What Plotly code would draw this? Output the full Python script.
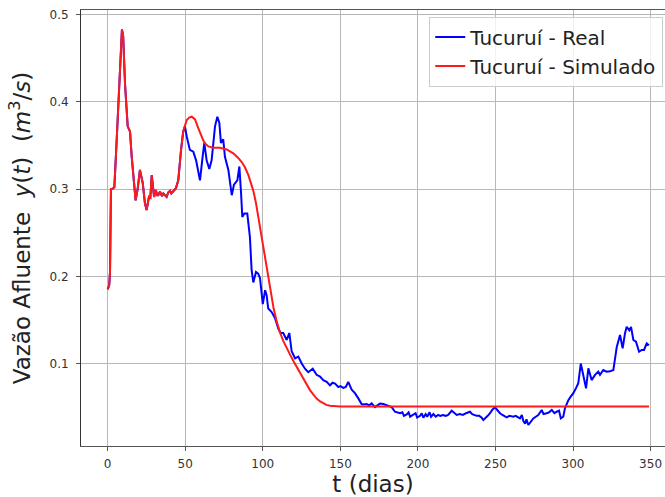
import plotly.graph_objects as go

# Trecho inicial (real e simulado coincidem)
t_inicio = [0, 1, 1.5, 2.1, 3, 4.3, 5.8, 7, 7.9, 9.2, 10, 11.2, 12.9, 14.4, 15.5, 17, 18, 19.3,
            20.8, 22.6, 24, 25.1, 26.6, 27.5, 28.4, 29.9, 31, 32, 32.6, 33.7, 35, 35.9, 37, 38,
            39, 40.2, 41, 42.3, 43, 44, 45.5, 47.3, 48.7]
q_inicio = [0.185, 0.19, 0.205, 0.30, 0.30, 0.302, 0.356, 0.40, 0.44, 0.483, 0.475, 0.42, 0.372,
            0.366, 0.337, 0.303, 0.287, 0.30, 0.322, 0.307, 0.284, 0.276, 0.291, 0.29, 0.316,
            0.291, 0.299, 0.293, 0.293, 0.297, 0.292, 0.295, 0.293, 0.291, 0.296, 0.298, 0.295,
            0.297, 0.299, 0.301, 0.31, 0.345, 0.366]

# Tucuruí - Real (restante)
t_real = [49.8, 51, 53, 55.2, 57, 59.5, 61.2, 62.3, 63.8, 65.5, 67, 69.2, 70.7, 72, 73, 74.5,
          75.6, 77.8, 80, 81.4, 83.6, 84.9, 86, 86.8, 88.1, 90, 91.7, 92.8, 93.9, 95.6, 97, 98.2,
          100, 101.5, 102.5, 103.5, 105.7, 107.9, 110, 111.5, 113.2, 115.4, 117.1, 118.6, 120.8,
          122.9, 125.1, 127.2, 129.3, 132.2, 134.7, 136.9, 139, 141.2, 143.3, 145, 146.6, 148.7,
          150, 151.9, 153.5, 155.1, 157.3, 159.4, 161.6, 163.7, 165, 167, 168.5, 170.2, 172.3,
          174, 175.6, 177.7, 179.9, 181.5, 183.1, 185.2, 186.8, 188.5, 190, 191, 192.8, 194, 195,
          197, 198.5, 199.5, 201.4, 202.5, 203.5, 205, 206, 207.5, 208.5, 210, 211.5, 213, 214.5,
          216, 218, 219.5, 221.8, 223, 225, 227, 229, 231, 233.6, 235, 237.9, 239.5, 241, 242.2,
          243.5, 245, 246.5, 248, 249.7, 251, 252.9, 254.5, 256, 257.2, 259, 261.5, 263, 264.5,
          265.8, 267, 268, 269.1, 270, 271.2, 272.5, 274.4, 276, 277.6, 279.8, 281, 283, 284.5,
          286.3, 288, 289.5, 291, 292.1, 293.7, 294.8, 297, 298.5, 300.2, 302, 303.4, 305, 306.7,
          308.4, 309.9, 312, 314.2, 316.3, 317.4, 319.5, 321.7, 323.9, 326, 327.1, 328.2, 330.3,
          332, 333.5, 334.6, 336.3, 337.4, 338.9, 340.6, 342.6, 344.3, 345.8, 347.5, 349]
q_real = [0.372, 0.36, 0.345, 0.343, 0.333, 0.31, 0.337, 0.353, 0.333, 0.323, 0.333, 0.372, 0.383,
          0.376, 0.353, 0.357, 0.337, 0.322, 0.293, 0.305, 0.31, 0.326, 0.295, 0.268, 0.272,
          0.272, 0.245, 0.207, 0.193, 0.205, 0.203, 0.198, 0.168, 0.184, 0.178, 0.163, 0.159,
          0.152, 0.140, 0.135, 0.135, 0.127, 0.135, 0.114, 0.106, 0.108, 0.100, 0.094, 0.090,
          0.094, 0.087, 0.085, 0.081, 0.079, 0.075, 0.078, 0.077, 0.073, 0.074, 0.072, 0.073,
          0.079, 0.070, 0.066, 0.060, 0.0535, 0.053, 0.0535, 0.052, 0.0543, 0.050, 0.052, 0.054,
          0.0535, 0.052, 0.0515, 0.050, 0.0447, 0.044, 0.043, 0.044, 0.040, 0.0417, 0.044, 0.039,
          0.041, 0.043, 0.038, 0.040, 0.043, 0.038, 0.042, 0.039, 0.044, 0.039, 0.042, 0.039,
          0.041, 0.040, 0.041, 0.040, 0.041, 0.0458, 0.044, 0.041, 0.042, 0.041, 0.043, 0.0447,
          0.042, 0.040, 0.040, 0.038, 0.0352, 0.038, 0.040, 0.043, 0.047, 0.0498, 0.047, 0.043,
          0.041, 0.040, 0.0383, 0.040, 0.039, 0.040, 0.038, 0.037, 0.041, 0.034, 0.031, 0.036,
          0.0295, 0.033, 0.037, 0.039, 0.041, 0.0467, 0.042, 0.043, 0.044, 0.0467, 0.043, 0.0447,
          0.046, 0.037, 0.039, 0.0486, 0.058, 0.062, 0.066, 0.072, 0.0773, 0.100, 0.085, 0.0716,
          0.0945, 0.081, 0.087, 0.0906, 0.087, 0.0925, 0.0906, 0.091, 0.0925, 0.108, 0.119,
          0.1327, 0.1175, 0.1346, 0.142, 0.138, 0.142, 0.127, 0.125, 0.1135, 0.1155, 0.1155,
          0.123, 0.121]

# Tucuruí - Simulado (restante)
t_sim = [50.9, 52.5, 54.2, 56.3, 58.4, 60, 61.6, 63, 64.9, 68.1, 72.4, 76.7, 79, 81, 84, 86.4,
         88.5, 90.7, 92.5, 93.9, 95.5, 97.1, 98.5, 99.9, 101.2, 102.5, 103.8, 105.3, 107, 109,
         111, 113.2, 115.5, 117.5, 120, 121.9, 124, 126.1, 128.2, 130.4, 132.5, 134.7, 137, 139,
         141, 143.3, 145.5, 147.6, 150, 349]
q_sim = [0.379, 0.382, 0.383, 0.380, 0.370, 0.362, 0.356, 0.352, 0.349, 0.3475, 0.3475, 0.3455,
         0.343, 0.341, 0.336, 0.331, 0.325, 0.316, 0.306, 0.298, 0.285, 0.268, 0.252, 0.237,
         0.222, 0.207, 0.194, 0.178, 0.163, 0.148, 0.136, 0.126, 0.117, 0.1105, 0.102, 0.096,
         0.0885, 0.0815, 0.0755, 0.0695, 0.0645, 0.0598, 0.0565, 0.054, 0.0525, 0.0515, 0.051,
         0.0507, 0.0506, 0.0506]

x_ticks = [0, 50, 100, 150, 200, 250, 300, 350]
y_ticks = [0.1, 0.2, 0.3, 0.4, 0.5]

FONT = "DejaVu Sans"

fig = go.Figure()
fig.add_trace(go.Scatter(x=t_inicio + t_real, y=q_inicio + q_real, mode="lines",
                         name="Tucuruí - Real", line=dict(color="#0000ff", width=2)))
fig.add_trace(go.Scatter(x=t_inicio + t_sim, y=q_inicio + q_sim, mode="lines",
                         name="Tucuruí - Simulado", line=dict(color="#ff1a1a", width=2)))

axis_common = dict(showgrid=True, gridcolor="#b8b8b8", gridwidth=1, zeroline=False,
                   showline=True, ticks="outside", ticklen=4, tickwidth=1,
                   tickfont=dict(family=FONT, size=12, color="#333333"))

fig.update_layout(
    width=665, height=497,
    margin=dict(l=81, r=0, t=10, b=51),
    paper_bgcolor="white", plot_bgcolor="white",
    font=dict(family=FONT, color="#222222"),
    xaxis=dict(range=[-17.2, 359.3], tickvals=x_ticks, linecolor="#555555", tickcolor="#555555",
               mirror=True, ticklabelstandoff=3,
               title=dict(text="t (dias)", font=dict(family=FONT, size=23, color="#222222"),
                          standoff=2),
               **axis_common),
    yaxis=dict(range=[0.0054, 0.5054], tickvals=y_ticks, tickformat=".1f",
               linecolor="#333333", tickcolor="#555555", ticklabelstandoff=5,
               title=dict(text="Vazão Afluente\u00a0\u00a0<i>y</i>(<i>t</i>)\u00a0\u00a0(<i>m</i><sup>3</sup>/<i>s</i>)",
                          font=dict(family=FONT, size=23, color="#222222"), standoff=12),
               **axis_common),
    legend=dict(x=0.997, y=0.985, xanchor="right", yanchor="top",
                bgcolor="rgba(255,255,255,0.8)", bordercolor="#cccccc", borderwidth=1,
                font=dict(family=FONT, size=20, color="#222222"), tracegroupgap=0),
    showlegend=True,
)

fig.write_html("out.html")
